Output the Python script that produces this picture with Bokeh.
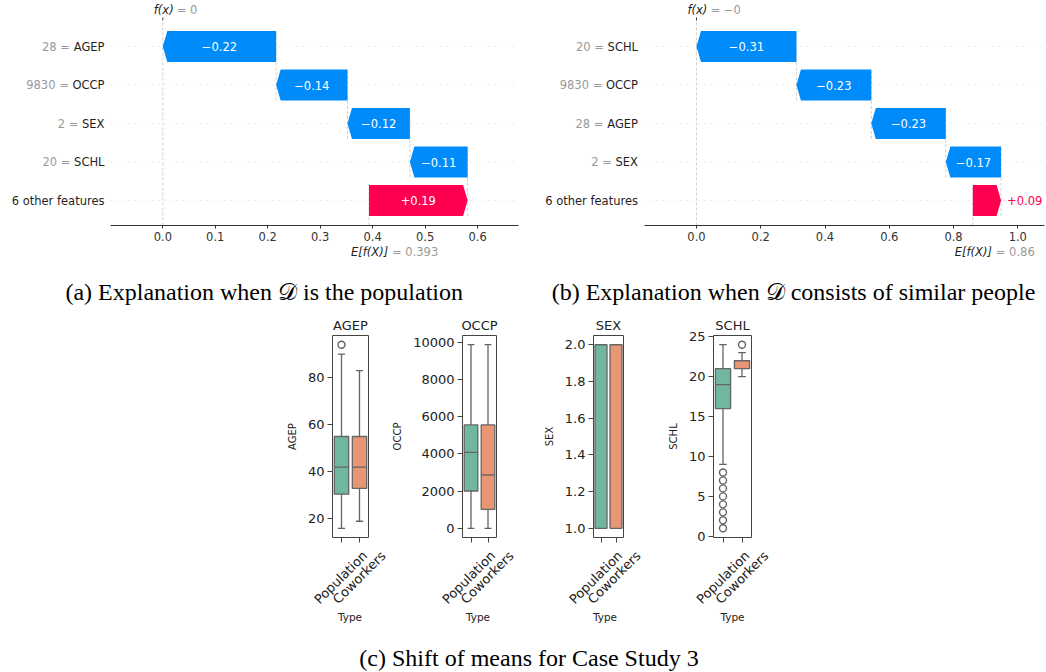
import math
from bokeh.plotting import figure
from bokeh.models import Range1d, FixedTicker, NumeralTickFormatter, ColumnDataSource, Spacer
from bokeh.layouts import column, row
from bokeh.embed import file_html
from bokeh.resources import INLINE
from bokeh.core.properties import value

# ---------------- data: waterfall (a) ----------------
a_features = ["AGEP", "OCCP", "SEX", "SCHL", "6 other features"]
a_feature_values = ["28", "9830", "2", "20", ""]
a_shap = [-0.216, -0.136, -0.119, -0.110, 0.188]
a_base = 0.393
a_fx = 0.0
a_ticks = [0.0, 0.1, 0.2, 0.3, 0.4, 0.5, 0.6]

# ---------------- data: waterfall (b) ----------------
b_features = ["SCHL", "OCCP", "AGEP", "SEX", "6 other features"]
b_feature_values = ["20", "9830", "28", "2", ""]
b_shap = [-0.311, -0.233, -0.232, -0.172, 0.088]
b_base = 0.86
b_fx = -0.0
b_ticks = [0.0, 0.2, 0.4, 0.6, 0.8, 1.0]

# ---------------- data: box plots ----------------
groups = ["Population", "Coworkers"]

agep_q1 = [30.5, 33.0]
agep_median = [42.0, 42.0]
agep_q3 = [55.0, 55.0]
agep_low = [16.0, 19.0]
agep_high = [90.0, 83.0]
agep_outliers = [[94.0], []]
agep_ticks = [20, 40, 60, 80]

occp_q1 = [2005.0, 1020.0]
occp_median = [4085.0, 2865.0]
occp_q3 = [5555.0, 5555.0]
occp_low = [0.0, 0.0]
occp_high = [9870.0, 9870.0]
occp_outliers = [[], []]
occp_ticks = [0, 2000, 4000, 6000, 8000, 10000]

sex_q1 = [1.0, 1.0]
sex_median = [2.0, 2.0]
sex_q3 = [2.0, 2.0]
sex_low = [1.0, 1.0]
sex_high = [2.0, 2.0]
sex_outliers = [[], []]
sex_ticks = [1.0, 1.2, 1.4, 1.6, 1.8, 2.0]

schl_q1 = [16.0, 21.0]
schl_median = [19.0, 22.0]
schl_q3 = [21.0, 22.0]
schl_low = [9.0, 20.0]
schl_high = [24.0, 23.0]
schl_outliers = [[1, 2, 3, 4, 5, 6, 7, 8], [24]]
schl_ticks = [0, 5, 10, 15, 20, 25]

x_axis_title = "Type"

caption_a = "(a) Explanation when \U0001D49F is the population"
caption_b = "(b) Explanation when \U0001D49F consists of similar people"
caption_c = "(c) Shift of means for Case Study 3"

# ---------------- styles ----------------
FONT = "DejaVu Sans"
BLUE = "#008bfb"
RED = "#ff0051"
GRAY_TXT = "#999999"
DARK_TXT = "#222222"
BOX_COLORS = ["#71b6a0", "#e99675"]
BOX_LINE = "#646464"
SPINE = "#444444"

# DejaVu Sans advance widths (units per 2048 em) for label layout
DV_W = {"A": 1401, "G": 1577, "E": 1294, "P": 1235, "O": 1612, "C": 1430, "S": 1300,
        "X": 1405, "H": 1540, "L": 1141, " ": 651, "+": 1716, "\u2212": 1716, ".": 651}


def dv_width(s, px):
    return sum(DV_W.get(ch, 1303) for ch in s) / 2048.0 * px


def fmt3(v):
    s = f"{v:.3f}".rstrip("0").rstrip(".")
    return s.replace("-", "\u2212")


ROW_H = 246          # height of the waterfall row
FRAME_H = 225        # frame height of waterfall plots
ROW_PX = 38.5        # pixels between feature rows


def wf_y_range(n):
    y0 = -25.0 / ROW_PX
    y1 = n - 1 + 46.0 / ROW_PX
    return Range1d(y0, y1)


def label_fig(features, fvals, yr, width, right_pad):
    n = len(features)
    rows = [n - 1 - i for i in range(n)]
    p = figure(width=width, height=ROW_H, x_range=Range1d(0, width), y_range=yr,
               min_border_left=0, min_border_right=0, min_border_top=0,
               min_border_bottom=ROW_H - FRAME_H,
               output_backend="svg", toolbar_location=None, title=None,
               x_axis_type=None, y_axis_type=None)
    xr = width - right_pad
    p.text(x=[xr] * n, y=rows, text=features, text_align="right", text_baseline="middle",
           text_font=value(FONT), text_font_size="11.5px", text_color="#1f1f1f")
    vx, vy, vt = [], [], []
    for i in range(n):
        if fvals[i]:
            vx.append(xr - dv_width(features[i], 11.5) - dv_width(" ", 11.5))
            vy.append(rows[i])
            vt.append(fvals[i] + " =")
    p.text(x=vx, y=vy, text=vt, text_align="right", text_baseline="middle",
           text_font=value(FONT), text_font_size="11.5px", text_color=GRAY_TXT)
    p.xgrid.visible = False
    p.ygrid.visible = False
    p.outline_line_color = None
    return p


def waterfall(features, shap, base, fx, ticks, yr, width, border_right, x_start, x_end):
    n = len(features)
    rows = [n - 1 - i for i in range(n)]
    y0, y1 = yr.start, yr.end
    y_axis_top = n - 1 + 26.0 / ROW_PX
    p = figure(width=width, height=ROW_H, x_range=Range1d(x_start, x_end), y_range=yr,
               min_border_left=0, min_border_right=border_right,
               min_border_top=0, min_border_bottom=ROW_H - FRAME_H,
               output_backend="svg", toolbar_location=None, title=None, y_axis_type=None)
    frame_w = width - border_right
    ppu = frame_w / (x_end - x_start)
    head = 4.5 / ppu

    starts = [0.0] * n
    ends = [0.0] * n
    loc = base
    for i in reversed(range(n)):
        starts[i] = loc
        ends[i] = loc + shap[i]
        loc = ends[i]

    # dotted row guides
    p.segment(x0=[x_start] * n, x1=[x_end] * n, y0=rows, y1=rows,
              line_color="#cccccc", line_width=0.8, line_dash="1 5")
    # connectors
    m = n - 1
    p.segment(x0=starts[:m], x1=starts[:m], y0=[r - 1.4 for r in rows[:m]], y1=[r + 0.4 for r in rows[:m]],
              line_color="#bbbbbb", line_width=0.7, line_dash="3 2")
    p.segment(x0=[base], x1=[base], y0=[y0], y1=[y0 + (y_axis_top - y0) / n],
              line_color="#bbbbbb", line_width=0.7, line_dash="3 2")
    p.segment(x0=[fx], x1=[fx], y0=[y0], y1=[y_axis_top],
              line_color="#bbbbbb", line_width=0.7, line_dash="3 2")
    # small tick of the f(x) axis
    p.segment(x0=[fx], x1=[fx], y0=[y_axis_top], y1=[y_axis_top + 3.0 / ROW_PX],
              line_color="#333333", line_width=1)

    # arrows
    hw = 0.4
    xs, ys, cols = [], [], []
    for i in range(n):
        s, e, v, yy = starts[i], ends[i], shap[i], rows[i]
        d = 1 if v > 0 else -1
        h = min(head, abs(v))
        neck = e - d * h
        xs.append([s, neck, e, neck, s])
        ys.append([yy - hw, yy - hw, yy, yy + hw, yy + hw])
        cols.append(RED if v > 0 else BLUE)
    p.patches(xs=xs, ys=ys, fill_color=cols, line_color=None)

    # value labels on bars
    in_x, in_y, in_t = [], [], []
    for i in range(n):
        v = shap[i]
        txt = f"{v:+.2f}".replace("-", "\u2212")
        bar_px = abs(v) * ppu
        tw = dv_width(txt, 11)
        if bar_px > tw + 8:
            in_x.append((starts[i] + ends[i]) / 2)
            in_y.append(rows[i])
            in_t.append(txt)
        else:
            p.text(x=[max(starts[i], ends[i]) if v > 0 else min(starts[i], ends[i])], y=[rows[i]],
                   text=[txt], x_offset=6 if v > 0 else -6,
                   text_align="left" if v > 0 else "right", text_baseline="middle",
                   text_color=cols[i], text_font=value(FONT), text_font_size="11.5px")
    p.text(x=in_x, y=in_y, text=in_t, text_align="center", text_baseline="middle",
           text_color="white", text_font=value(FONT), text_font_size="11.5px")

    # f(x) label on top
    y_lab = y1 - 9.5 / ROW_PX
    p.text(x=[fx], y=[y_lab], text=["f(x)"], x_offset=-9, text_align="left", text_baseline="middle",
           text_font_style="italic", text_color=DARK_TXT, text_font=value(FONT), text_font_size="11.5px")
    p.text(x=[fx], y=[y_lab], text=["= " + fmt3(fx)], x_offset=14, text_align="left",
           text_baseline="middle", text_color=GRAY_TXT, text_font=value(FONT), text_font_size="11.5px")

    p.xaxis.ticker = FixedTicker(ticks=ticks)
    p.xaxis.formatter = NumeralTickFormatter(format="0.0")
    p.xaxis.axis_line_color = "#333333"
    p.xaxis.major_tick_line_color = "#333333"
    p.xaxis.major_tick_out = 3
    p.xaxis.major_tick_in = 0
    p.xaxis.minor_tick_line_color = None
    p.xaxis.major_label_text_font = FONT
    p.xaxis.major_label_text_font_size = "11.5px"
    p.xaxis.major_label_text_color = "#333333"
    p.xaxis.major_label_standoff = 3

    p.xgrid.visible = False
    p.ygrid.visible = False
    p.outline_line_color = None
    return p


def base_strip(xr, base, width, border_left, border_right, height):
    p = figure(width=width, height=height, x_range=xr, y_range=Range1d(0, height),
               min_border_left=border_left, min_border_right=border_right,
               min_border_top=0, min_border_bottom=0,
               output_backend="svg", toolbar_location=None, title=None,
               x_axis_type=None, y_axis_type=None)
    yy = height - 5
    p.text(x=[base], y=[yy], text=["E[f(X)]"], x_offset=-18, text_align="left", text_baseline="middle",
           text_font_style="italic", text_color=DARK_TXT, text_font=value(FONT), text_font_size="11.5px")
    p.text(x=[base], y=[yy], text=["= " + fmt3(base)], x_offset=23, text_align="left",
           text_baseline="middle", text_color=GRAY_TXT, text_font=value(FONT), text_font_size="11.5px")
    p.xgrid.visible = False
    p.ygrid.visible = False
    p.outline_line_color = None
    return p


BOX_H = 236        # box figure height: 25 title + 202 frame + 9 tick area
STRIP_H = 84       # rotated category labels and "Type"


def box_fig(name, q1, med, q3, low, high, outliers, ticks, fmt, width, border_left, border_right):
    xs = list(range(len(groups)))
    vals = low + high + [v for o in outliers for v in o]
    lo, hi = min(vals), max(vals)
    pad = 0.05 * (hi - lo)
    p = figure(width=width, height=BOX_H, x_range=Range1d(-0.5, len(groups) - 0.5),
               y_range=Range1d(lo - pad, hi + pad),
               min_border_left=border_left, min_border_right=border_right,
               min_border_top=25, min_border_bottom=9,
               output_backend="svg", toolbar_location=None, title=name)
    src = ColumnDataSource(dict(x=xs, q1=q1, med=med, q3=q3, low=low, high=high, color=BOX_COLORS,
                                left=[x - 0.4 for x in xs], right=[x + 0.4 for x in xs],
                                capl=[x - 0.2 for x in xs], capr=[x + 0.2 for x in xs]))
    lw = 1.3
    p.segment(x0="x", y0="q3", x1="x", y1="high", source=src, line_color=BOX_LINE, line_width=lw)
    p.segment(x0="x", y0="q1", x1="x", y1="low", source=src, line_color=BOX_LINE, line_width=lw)
    p.segment(x0="capl", y0="high", x1="capr", y1="high", source=src, line_color=BOX_LINE, line_width=lw)
    p.segment(x0="capl", y0="low", x1="capr", y1="low", source=src, line_color=BOX_LINE, line_width=lw)
    p.vbar(x="x", bottom="q1", top="q3", width=0.8, fill_color="color", line_color=BOX_LINE,
           line_width=lw, source=src)
    p.segment(x0="left", y0="med", x1="right", y1="med", source=src, line_color=BOX_LINE, line_width=lw)
    ox = [x for x, o in zip(xs, outliers) for _ in o]
    oy = [v for o in outliers for v in o]
    if oy:
        p.scatter(x=ox, y=oy, size=7, marker="circle", fill_color=None, line_color=BOX_LINE, line_width=1.4)

    p.title.text_font = FONT
    p.title.text_font_size = "13px"
    p.title.text_font_style = "normal"
    p.title.align = "center"
    p.title.standoff = 6
    p.title.text_color = DARK_TXT

    # x axis: tick marks only (category names are drawn rotated in the strip below)
    p.xaxis.ticker = FixedTicker(ticks=xs)
    p.xaxis.major_label_overrides = {x: "" for x in xs}
    p.xaxis.major_tick_out = 5
    p.xaxis.major_tick_in = 0
    p.xaxis.axis_line_color = None
    p.xaxis.major_tick_line_color = SPINE
    p.xaxis.minor_tick_line_color = None
    p.xaxis.major_label_standoff = 0

    p.yaxis.ticker = FixedTicker(ticks=ticks)
    if fmt:
        p.yaxis.formatter = NumeralTickFormatter(format=fmt)
    p.yaxis.axis_label = name
    p.yaxis.axis_label_text_font = FONT
    p.yaxis.axis_label_text_font_size = "10px"
    p.yaxis.axis_label_text_font_style = "normal"
    p.yaxis.axis_label_text_color = DARK_TXT
    p.yaxis.axis_label_standoff = 7
    p.yaxis.major_label_text_font = FONT
    p.yaxis.major_label_text_font_size = "13px"
    p.yaxis.major_label_text_color = DARK_TXT
    p.yaxis.major_label_standoff = 3
    p.yaxis.major_tick_out = 5
    p.yaxis.major_tick_in = 0
    p.yaxis.axis_line_color = None
    p.yaxis.major_tick_line_color = SPINE
    p.yaxis.minor_tick_line_color = None

    p.xgrid.visible = False
    p.ygrid.visible = False
    p.outline_line_color = SPINE
    p.outline_line_width = 1
    return p


def box_label_strip(width, border_left, border_right):
    # same horizontal scale as the box figure above, extended over the whole strip
    xs = list(range(len(groups)))
    frame_w = width - border_left - border_right
    ppu = frame_w / len(groups)
    xr = Range1d(-0.5 - border_left / ppu, len(groups) - 0.5 + border_right / ppu)
    p = figure(width=width, height=STRIP_H, x_range=xr, y_range=Range1d(0, STRIP_H),
               min_border=0, output_backend="svg", toolbar_location=None, title=None,
               x_axis_type=None, y_axis_type=None)
    p.text(x=xs, y=[STRIP_H - 31] * len(xs), text=groups, angle=math.pi / 4,
           text_align="center", text_baseline="middle",
           text_font=value(FONT), text_font_size="13px", text_color=DARK_TXT)
    p.text(x=[(xs[0] + xs[-1]) / 2], y=[STRIP_H - 70], text=[x_axis_title],
           text_align="center", text_baseline="middle",
           text_font=value(FONT), text_font_size="10.5px", text_color=DARK_TXT)
    p.xgrid.visible = False
    p.ygrid.visible = False
    p.outline_line_color = None
    return p


def caption_fig(texts, xs, y, height):
    p = figure(width=1046, height=height, x_range=Range1d(0, 1046), y_range=Range1d(0, height),
               min_border=0, output_backend="svg", toolbar_location=None, title=None,
               x_axis_type=None, y_axis_type=None)
    p.text(x=xs, y=[y] * len(xs), text=texts, text_align="center", text_baseline="middle",
           text_font=value("Liberation Serif"), text_font_size="24px", text_color="#000000")
    p.xgrid.visible = False
    p.ygrid.visible = False
    p.outline_line_color = None
    return p


yr_a = wf_y_range(len(a_features))
yr_b = wf_y_range(len(b_features))

la = label_fig(a_features, a_feature_values, yr_a, 110, 6)
pa = waterfall(a_features, a_shap, a_base, a_fx, a_ticks, yr_a, 415, 7, -0.0997, 0.678)
lb = label_fig(b_features, b_feature_values, yr_b, 119, 6.5)
pb = waterfall(b_features, b_shap, b_base, b_fx, b_ticks, yr_b, 401, 1, -0.1618, 1.0831)

sa = base_strip(pa.x_range, a_base, 525, 110, 7, 14)
sb = base_strip(pb.x_range, b_base, 520, 119, 1, 14)

cap1 = caption_fig([caption_a, caption_b], [263.7, 793.0], 19, 50)

box_specs = [
    ("AGEP", agep_q1, agep_median, agep_q3, agep_low, agep_high, agep_outliers, agep_ticks, None, 106, 48, 21),
    ("OCCP", occp_q1, occp_median, occp_q3, occp_low, occp_high, occp_outliers, occp_ticks, None, 151, 70, 44),
    ("SEX", sex_q1, sex_median, sex_q3, sex_low, sex_high, sex_outliers, sex_ticks, "0.0", 120, 46, 37),
    ("SCHL", schl_q1, schl_median, schl_q3, schl_low, schl_high, schl_outliers, schl_ticks, None, 120, 53, 29),
]
box_figs = [box_fig(*s) for s in box_specs]
box_strips = [box_label_strip(s[9], s[10], s[11]) for s in box_specs]

cap2 = caption_fig([caption_c], [528.5], 14, 41)

layout = column(row(la, pa, lb, pb), row(sa, sb), cap1,
                row(Spacer(width=283, height=BOX_H), *box_figs),
                row(Spacer(width=283, height=STRIP_H), *box_strips),
                cap2)

open("out.html", "w").write(file_html(layout, INLINE))
